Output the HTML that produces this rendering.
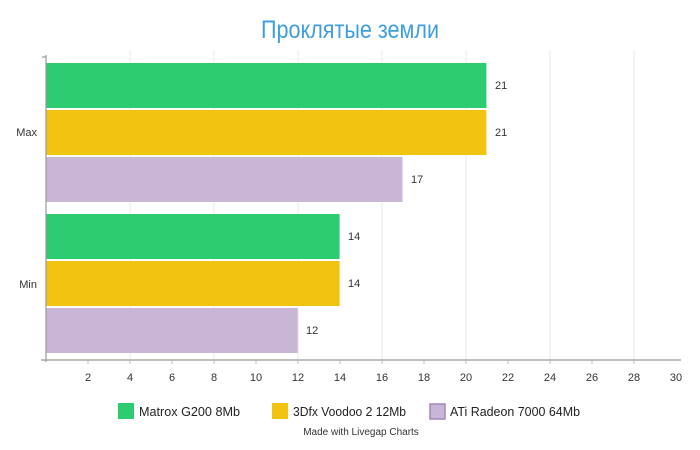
<!DOCTYPE html><html><head><meta charset="utf-8"><style>body{margin:0;background:#fff}svg{display:block}text{font-family:"Liberation Sans","DejaVu Sans",sans-serif}</style></head><body>
<svg width="700" height="450" viewBox="0 0 700 450">
<text x="261" y="38" font-size="25" fill="#3e9ee0" textLength="178" lengthAdjust="spacingAndGlyphs">Проклятые земли</text>
<g stroke="#e8e8e8" stroke-width="1">
<line x1="130" y1="50" x2="130" y2="360"/><line x1="214" y1="50" x2="214" y2="360"/><line x1="298" y1="50" x2="298" y2="360"/><line x1="382" y1="50" x2="382" y2="360"/><line x1="466" y1="50" x2="466" y2="360"/><line x1="550" y1="50" x2="550" y2="360"/><line x1="634" y1="50" x2="634" y2="360"/>
</g>
<rect x="46" y="63" width="440.4" height="45" fill="#2ecc71"/>
<rect x="46" y="110" width="440.4" height="45" fill="#f1c40f"/>
<rect x="46" y="157" width="356.5" height="45" fill="#c9b6d6"/>
<rect x="46" y="214" width="293.6" height="45" fill="#2ecc71"/>
<rect x="46" y="261" width="293.6" height="45" fill="#f1c40f"/>
<rect x="46" y="308" width="251.6" height="45" fill="#c9b6d6"/>
<g font-size="11" fill="#333">
<text x="495" y="89">21</text><text x="495" y="136">21</text><text x="411" y="183">17</text>
<text x="348" y="240">14</text><text x="348" y="287">14</text><text x="306" y="334">12</text>
<text x="37" y="136" text-anchor="end">Max</text><text x="37" y="288" text-anchor="end">Min</text>
</g>
<g stroke="#999" stroke-width="1.2"><line x1="46" y1="55" x2="46" y2="362"/><line x1="42" y1="57" x2="46" y2="57"/><line x1="41" y1="360" x2="681" y2="360"/></g>
<g stroke="#bbb"><line x1="88" y1="360" x2="88" y2="364"/><line x1="172" y1="360" x2="172" y2="364"/><line x1="256" y1="360" x2="256" y2="364"/><line x1="340" y1="360" x2="340" y2="364"/><line x1="424" y1="360" x2="424" y2="364"/><line x1="508" y1="360" x2="508" y2="364"/><line x1="592" y1="360" x2="592" y2="364"/><line x1="130" y1="360" x2="130" y2="364"/><line x1="214" y1="360" x2="214" y2="364"/><line x1="298" y1="360" x2="298" y2="364"/><line x1="382" y1="360" x2="382" y2="364"/><line x1="466" y1="360" x2="466" y2="364"/><line x1="550" y1="360" x2="550" y2="364"/><line x1="634" y1="360" x2="634" y2="364"/></g>
<g font-size="11" fill="#333" text-anchor="middle">
<text x="88" y="381">2</text><text x="130" y="381">4</text><text x="172" y="381">6</text><text x="214" y="381">8</text><text x="256" y="381">10</text><text x="298" y="381">12</text><text x="340" y="381">14</text><text x="382" y="381">16</text><text x="424" y="381">18</text><text x="466" y="381">20</text><text x="508" y="381">22</text><text x="550" y="381">24</text><text x="592" y="381">26</text><text x="634" y="381">28</text><text x="676" y="381">30</text>
</g>
<rect x="118" y="403" width="16" height="16" fill="#2ecc71"/>
<text x="139" y="416" font-size="13" fill="#222" textLength="101" lengthAdjust="spacingAndGlyphs">Matrox G200 8Mb</text>
<rect x="272" y="403" width="16" height="16" fill="#f1c40f"/>
<text x="293" y="416" font-size="13" fill="#222" textLength="113" lengthAdjust="spacingAndGlyphs">3Dfx Voodoo 2 12Mb</text>
<rect x="430" y="404" width="15" height="15" fill="#c9b6d6" stroke="#a487bb" stroke-width="1.5"/>
<text x="450" y="416" font-size="13" fill="#222" textLength="130" lengthAdjust="spacingAndGlyphs">ATi Radeon 7000 64Mb</text>
<text x="361" y="435" font-size="10" fill="#333" text-anchor="middle">Made with Livegap Charts</text>
</svg></body></html>
